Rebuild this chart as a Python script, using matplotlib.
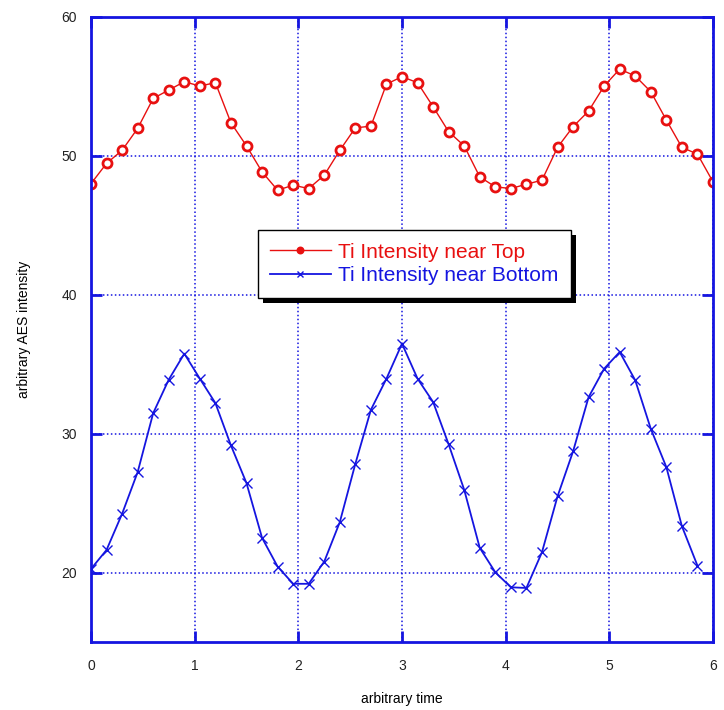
import matplotlib
matplotlib.use("Agg")
import matplotlib.pyplot as plt
import matplotlib.patheffects as pe
import numpy as np

plt.rcParams['font.family'] = ['Liberation Sans', 'DejaVu Sans']

# sample spacing along the time axis
time_step = 0.15

top_intensity = [
    48.0, 49.46, 50.4, 51.98, 54.14, 54.74, 55.34, 55.03, 55.27, 52.38,
    50.72, 48.85, 47.53, 47.89, 47.65, 48.61, 50.4, 52.02, 52.14, 55.17,
    55.70, 55.27, 53.54, 51.74, 50.72, 48.49, 47.77, 47.65, 47.96, 48.25,
    50.61, 52.10, 53.23, 55.03, 56.25, 55.75, 54.62, 52.58, 50.61, 50.13,
    48.13,
]

bottom_intensity = [
    20.26, 21.63, 24.23, 27.23, 31.48, 33.89, 35.76, 33.96, 32.20, 29.15,
    26.44, 22.50, 20.43, 19.19, 19.19, 20.79, 23.63, 27.83, 31.72, 33.96,
    36.48, 33.96, 32.28, 29.23, 25.96, 21.78, 20.02, 18.94, 18.89, 21.46,
    25.48, 28.72, 32.63, 34.68, 35.88, 33.84, 30.35, 27.59, 23.34, 20.50,
]

x_ticks = [0, 1, 2, 3, 4, 5, 6]
y_ticks = [20, 30, 40, 50, 60]

t_top = np.arange(len(top_intensity)) * time_step
t_bottom = np.arange(len(bottom_intensity)) * time_step

fig = plt.figure(figsize=(7.24, 7.10), dpi=100)
ax = fig.add_axes([91 / 724, 1 - 642 / 710, 622 / 724, 625 / 710])

blue = '#1515e0'
red = '#e81010'

ax.plot(t_top, top_intensity, color=red, lw=1.0, marker='o', ms=6.5,
        mfc='white', mec=red, mew=2.0, label='Ti Intensity near Top')
ax.plot(t_bottom, bottom_intensity, color=blue, lw=1.3, marker='x', ms=7,
        mec=blue, mew=1.0, label='Ti Intensity near Bottom')

ax.set_xlim(0, 6)
ax.set_ylim(15, 60)
ax.set_xticks(x_ticks)
ax.set_yticks(y_ticks)

ax.grid(True, color=blue, linestyle=(0, (1, 1.6)), linewidth=1.1)
for s in ax.spines.values():
    s.set_color(blue)
    s.set_linewidth(2.0)
ax.tick_params(direction='in', length=8, width=2, color=blue,
               top=True, right=True, labelsize=10, labelcolor='#222222', pad=10)
ax.tick_params(axis='x', pad=12)

ax.set_xlabel('arbitrary time', fontsize=10, labelpad=14)
ax.set_ylabel('arbitrary AES intensity', fontsize=10, labelpad=22)

leg = ax.legend(loc='upper left', bbox_to_anchor=(0.268, 0.659),
                fancybox=False, edgecolor='black', framealpha=1.0,
                fontsize=15, handlelength=2.9, handletextpad=0.35,
                borderpad=0.6, labelspacing=0.22, borderaxespad=0)
frame = leg.get_frame()
frame.set_linewidth(1.0)
frame.set_path_effects([pe.SimplePatchShadow(offset=(3.5, -3.5),
                                             shadow_rgbFace='black', alpha=1.0),
                        pe.Normal()])
for txt, c in zip(leg.get_texts(), [red, blue]):
    txt.set_color(c)
handles = leg.legend_handles
handles[0].set_markersize(4.5)
handles[0].set_markerfacecolor(red)
handles[0].set_markeredgewidth(1.2)
handles[1].set_markersize(5)

fig.savefig('out.png', dpi=100)
